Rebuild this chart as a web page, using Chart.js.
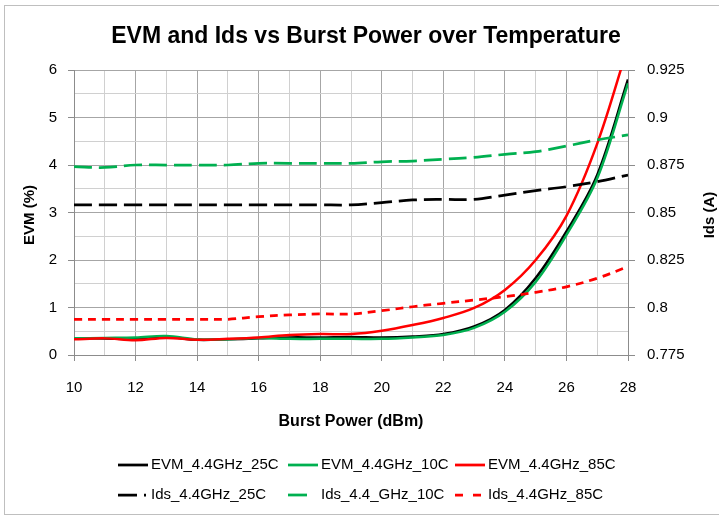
<!DOCTYPE html>
<html>
<head>
<meta charset="utf-8">
<script src="https://cdn.jsdelivr.net/npm/chart.js@4/dist/chart.umd.min.js"></script>
<style>
  body { margin: 0; background: #fff; }
  canvas { display: block; }
</style>
</head>
<body>
<canvas id="myChart" width="719" height="516"></canvas>
<script>
const powers = [10, 11, 12, 13, 14, 15, 16, 17, 18, 19, 20, 21, 22, 23, 24, 25, 26, 27, 28];
const powerLabels = [10, 12, 14, 16, 18, 20, 22, 24, 26, 28];
const evmTicks = [0, 0.5, 1, 1.5, 2, 2.5, 3, 3.5, 4, 4.5, 5, 5.5, 6];
const evmLabels = [0, 1, 2, 3, 4, 5, 6];
const idsTicks = [0.775, 0.8, 0.825, 0.85, 0.875, 0.9, 0.925];

const evm25 = [0.35, 0.35, 0.34, 0.38, 0.32, 0.33, 0.35, 0.37, 0.37, 0.38, 0.37, 0.39, 0.44, 0.60, 0.95, 1.62, 2.60, 3.79, 5.80];
const evm10 = [0.35, 0.36, 0.37, 0.40, 0.33, 0.33, 0.36, 0.34, 0.34, 0.34, 0.34, 0.37, 0.42, 0.57, 0.91, 1.54, 2.53, 3.72, 5.72];
const evm85 = [0.33, 0.35, 0.31, 0.36, 0.32, 0.34, 0.37, 0.42, 0.44, 0.44, 0.51, 0.63, 0.78, 0.99, 1.37, 2.00, 2.93, 4.45, 6.50];
const ids25 = [0.854, 0.854, 0.854, 0.854, 0.854, 0.854, 0.854, 0.854, 0.854, 0.854, 0.8552, 0.8566, 0.8569, 0.8569, 0.8592, 0.8615, 0.8636, 0.8662, 0.8697];
const ids10 = [0.8741, 0.8737, 0.875, 0.875, 0.875, 0.875, 0.8759, 0.8759, 0.8759, 0.8759, 0.8767, 0.8771, 0.878, 0.879, 0.8806, 0.882, 0.885, 0.8882, 0.8908];
const ids85 = [0.7938, 0.7938, 0.7938, 0.7938, 0.7938, 0.7938, 0.7952, 0.7961, 0.7966, 0.7966, 0.7983, 0.8004, 0.8022, 0.8039, 0.8057, 0.808, 0.8109, 0.8154, 0.8215];

const seriesNames = ["EVM_4.4GHz_25C", "EVM_4.4GHz_10C", "EVM_4.4GHz_85C", "Ids_4.4GHz_25C", "Ids_4.4_GHz_10C", "Ids_4.4GHz_85C"];

const FONT = "'Liberation Sans', Arial, sans-serif";
const majorGrid = "#a6a6a6";
const minorGrid = "#d0d0d0";

const pts = (ys) => powers.map((p, i) => ({ x: p, y: ys[i] }));

function line(label, ys, color, axis, dash, legendDash, order) {
  return {
    label: label,
    data: pts(ys),
    borderColor: color,
    backgroundColor: color,
    borderWidth: dash.length ? 2.75 : 2.5,
    borderDash: dash,
    legendDash: legendDash,
    pointRadius: 0,
    tension: 0.35,
    yAxisID: axis,
    order: order
  };
}

const chartTexts = {
  id: 'chartTexts',
  beforeDraw(chart) {
    const c = chart.ctx;
    c.save();
    c.fillStyle = '#fff';
    c.fillRect(0, 0, chart.width, chart.height);
    c.strokeStyle = '#bfbfbf';
    c.lineWidth = 1;
    c.strokeRect(4.5, 5.5, 730, 509);
    c.restore();
  },
  afterDraw(chart) {
    const c = chart.ctx;
    const area = chart.chartArea;
    c.save();
    c.fillStyle = '#000';

    c.font = "bold 23px " + FONT;
    c.textAlign = 'center';
    c.textBaseline = 'alphabetic';
    c.fillText("EVM and Ids vs Burst Power over Temperature", 366, 43);

    c.font = "bold 16px " + FONT;
    c.textBaseline = 'middle';
    c.fillText("Burst Power (dBm)", (area.left + area.right) / 2, 422);

    c.font = "bold 15px " + FONT;
    c.save();
    c.translate(30, 215);
    c.rotate(-Math.PI / 2);
    c.fillText("EVM (%)", 0, 0);
    c.restore();
    c.save();
    c.translate(710, 215);
    c.rotate(-Math.PI / 2);
    c.fillText("Ids (A)", 0, 0);
    c.restore();

    // legend, two rows of three
    const cols = [118, 288, 455];
    const rows = [465, 495];
    c.font = "15px " + FONT;
    c.textAlign = 'left';
    chart.data.datasets.forEach((ds, i) => {
      const x = cols[i % 3];
      const y = rows[Math.floor(i / 3)];
      c.strokeStyle = ds.borderColor;
      c.lineWidth = 2.75;
      c.setLineDash(ds.legendDash);
      c.beginPath();
      c.moveTo(x, y);
      c.lineTo(x + 30, y);
      c.stroke();
      c.setLineDash([]);
      c.fillText(ds.label, x + 33, y);
    });
    c.restore();
  }
};

new Chart(document.getElementById('myChart').getContext('2d'), {
  type: 'line',
  data: {
    datasets: [
      line(seriesNames[0], evm25, '#000000', 'y', [], [], 6),
      line(seriesNames[1], evm10, '#00b050', 'y', [], [], 5),
      line(seriesNames[2], evm85, '#ff0000', 'y', [], [], 4),
      line(seriesNames[3], ids25, '#000000', 'y1', [18, 7], [19, 7, 2, 40], 3),
      line(seriesNames[4], ids10, '#00b050', 'y1', [18, 7], [19, 40], 2),
      line(seriesNames[5], ids85, '#ff0000', 'y1', [8, 6], [8, 10], 1)
    ]
  },
  options: {
    responsive: false,
    animation: false,
    layout: { padding: { top: 70, left: 0, right: 0, bottom: 0 } },
    plugins: {
      legend: { display: false },
      title: { display: false },
      tooltip: { enabled: false }
    },
    scales: {
      x: {
        type: 'linear',
        min: 10,
        max: 28,
        afterBuildTicks: (s) => { s.ticks = powers.map(v => ({ value: v })); },
        afterFit: (s) => { s.height = 161; },
        ticks: {
          autoSkip: false,
          maxRotation: 0,
          padding: 18,
          color: '#000',
          font: { family: FONT, size: 15 },
          callback: (v) => powerLabels.includes(v) ? String(v) : ''
        },
        grid: {
          tickLength: 6,
          color: (ctx) => ctx.tick && powerLabels.includes(ctx.tick.value) ? majorGrid : minorGrid,
          tickColor: (ctx) => ctx.tick && powerLabels.includes(ctx.tick.value) ? '#8c8c8c' : 'rgba(0,0,0,0)'
        },
        border: { color: '#8c8c8c' }
      },
      y: {
        position: 'left',
        min: 0,
        max: 6,
        afterBuildTicks: (s) => { s.ticks = evmTicks.map(v => ({ value: v })); },
        afterFit: (s) => { s.width = 74; },
        ticks: {
          autoSkip: false,
          padding: 11,
          color: '#000',
          font: { family: FONT, size: 15 },
          callback: (v) => evmLabels.includes(v) ? String(v) : ''
        },
        grid: {
          tickLength: 6,
          color: (ctx) => ctx.tick && evmLabels.includes(ctx.tick.value) ? majorGrid : minorGrid,
          tickColor: (ctx) => ctx.tick && evmLabels.includes(ctx.tick.value) ? '#8c8c8c' : 'rgba(0,0,0,0)'
        },
        border: { color: '#8c8c8c' }
      },
      y1: {
        position: 'right',
        min: 0.775,
        max: 0.925,
        afterBuildTicks: (s) => { s.ticks = idsTicks.map(v => ({ value: v })); },
        afterFit: (s) => { s.width = 91; },
        ticks: {
          autoSkip: false,
          padding: 12,
          color: '#000',
          font: { family: FONT, size: 15 },
          callback: (v) => String(v)
        },
        grid: {
          drawOnChartArea: false,
          tickLength: 7,
          tickColor: '#8c8c8c'
        },
        border: { color: '#8c8c8c' }
      }
    }
  },
  plugins: [chartTexts]
});
</script>
</body>
</html>
